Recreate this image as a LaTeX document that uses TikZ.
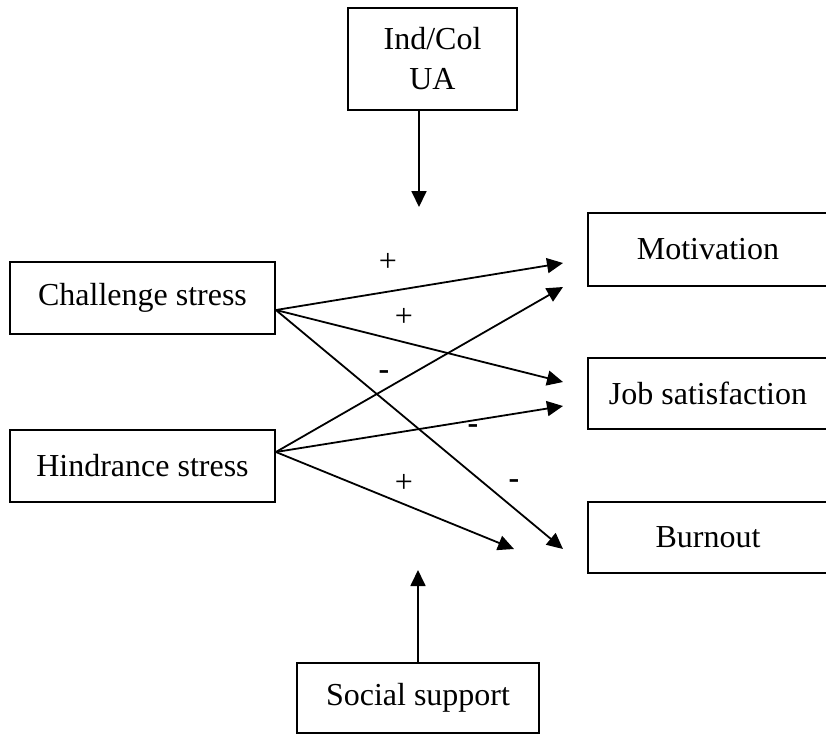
\documentclass[tikz,border=0pt]{standalone}
\usepackage{fontspec}
\setmainfont{Liberation Serif}
\usetikzlibrary{arrows.meta}

\tikzset{
  box/.style={draw, line width=0.9pt, inner sep=0pt, align=center,
    font=\fontsize{16}{20}\selectfont},
  arr/.style={line width=0.9pt, -{Triangle[length=8pt,width=7.5pt]}},
  sign/.style={font=\fontsize{16}{20}\selectfont, inner sep=0pt}
}

\begin{document}
\begin{tikzpicture}[x=0.5pt,y=-0.5pt]
\clip (0,0) rectangle (826,736);

% moderators
\node[box, minimum width=84.5pt, minimum height=51pt] (indcol) at (432.5,59)%
{Ind/Col\\UA};
\node[box, minimum width=121pt, minimum height=35pt] (social) at (418,698)%
{Social support};

% stressors
\node[box, minimum width=132.5pt, minimum height=36pt] (chal) at (142.5,298)%
{Challenge stress};
\node[box, minimum width=132.5pt, minimum height=36pt] (hind) at (142.5,466)%
{Hindrance stress};

% outcomes
\node[box, minimum width=120pt, minimum height=36.5pt] (motiv) at (708,249.5)%
{Motivation};
\node[box, minimum width=120pt, minimum height=35.5pt] (jobsat) at (708,393.5)%
{Job satisfaction};
\node[box, minimum width=120pt, minimum height=35.5pt] (burn) at (708,537.5)%
{Burnout};

% arrow ends
\coordinate (down) at (419,207);
\coordinate (up) at (418,570);
\coordinate (m1) at (563,263);
\coordinate (m2) at (563,287);
\coordinate (j1) at (563,382);
\coordinate (j2) at (563,406);
\coordinate (b1) at (514,549);
\coordinate (b2) at (563,549);

\draw[arr] (down |- indcol.south) -- (down);
\draw[arr] (social.north) -- (up);

\foreach \T in {m1,j1,b2}{
    \draw[arr] ([yshift=-6pt]chal.east) -- (\T);
}
\foreach \T in {m2,j2,b1}{
    \draw[arr] ([yshift=7pt]hind.east) -- (\T);
}

\foreach \P/\S [count=\i] in {(388,262)/+,(404,317)/+,(384,375)/\textbf{-},%
    (473,429)/\textbf{-},(404,483)/+,(514,484)/\textbf{-}}{
    \node[sign] (sign\i) at \P {\S};
}

\end{tikzpicture}
\end{document}
